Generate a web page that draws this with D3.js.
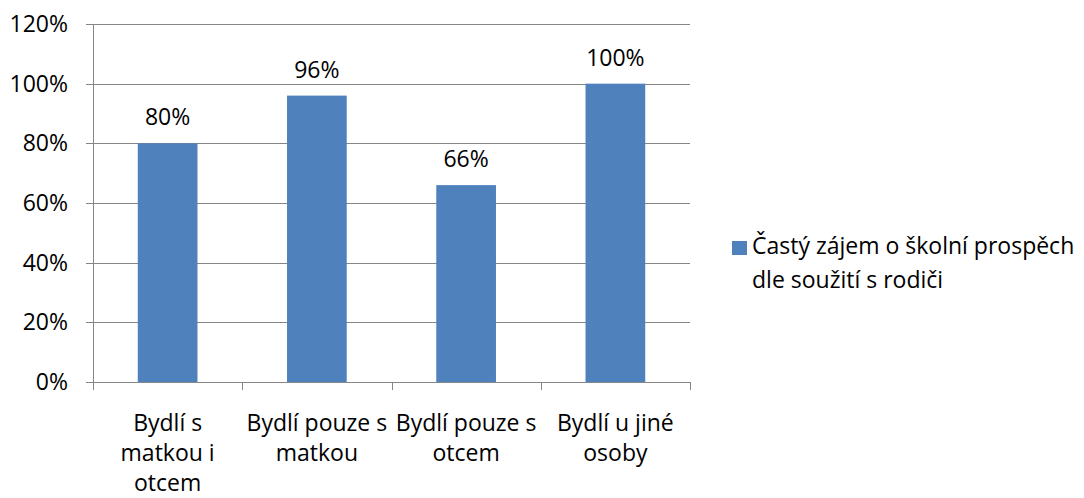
<!DOCTYPE html>
<html>
<head>
<meta charset="utf-8">
<script src="https://cdn.jsdelivr.net/npm/d3@7"></script>
<style>
  body { margin: 0; background: #fff; }
  text { font-family: "Open Sans", sans-serif; fill: #000; }
</style>
</head>
<body>
<svg id="chart" width="1084" height="498"></svg>
<script>
const categories = [
  ["Bydlí s", "matkou i", "otcem"],
  ["Bydlí pouze s", "matkou"],
  ["Bydlí pouze s", "otcem"],
  ["Bydlí u jiné", "osoby"]
];
const values = [0.80, 0.96, 0.66, 1.00];
const yTicks = [0, 0.2, 0.4, 0.6, 0.8, 1.0, 1.2];
const seriesName = ["Častý zájem o školní prospěch", "dle soužití s rodiči"];

const svg = d3.select("#chart");
const plotL = 93, plotR = 690, plotT = 24, plotB = 382;
const fs = 23;

const x = d3.scaleBand()
  .domain(d3.range(categories.length))
  .range([plotL, plotR])
  .paddingInner(0.6)
  .paddingOuter(0.3);

const y = d3.scaleLinear().domain([0, 1.2]).range([plotB, plotT]);

// gridlines + left ticks
svg.append("g")
  .selectAll("line")
  .data(yTicks)
  .join("line")
  .attr("x1", plotL - 7).attr("x2", plotR)
  .attr("y1", d => Math.round(y(d)) + 0.5).attr("y2", d => Math.round(y(d)) + 0.5)
  .attr("stroke", "#868686").attr("stroke-width", 1);

svg.append("g")
  .selectAll("text")
  .data(yTicks)
  .join("text")
  .attr("x", 68).attr("y", d => y(d))
  .attr("dy", "0.35em")
  .attr("text-anchor", "end")
  .style("font-size", fs + "px")
  .text(d3.format(".0%"));

// bars
svg.append("g")
  .selectAll("rect")
  .data(values)
  .join("rect")
  .attr("x", (d, i) => x(i))
  .attr("width", x.bandwidth())
  .attr("y", d => y(d))
  .attr("height", d => plotB - y(d))
  .attr("fill", "#4F81BD");

svg.append("g")
  .selectAll("text")
  .data(values)
  .join("text")
  .attr("x", (d, i) => x(i) + x.bandwidth() / 2)
  .attr("y", d => y(d) - 18)
  .attr("text-anchor", "middle")
  .style("font-size", fs + "px")
  .text(d3.format(".0%"));

// axes lines
svg.append("line")
  .attr("x1", plotL + 0.5).attr("x2", plotL + 0.5)
  .attr("y1", plotT).attr("y2", plotB)
  .attr("stroke", "#868686");

const step = (plotR - plotL) / categories.length;
svg.append("g")
  .selectAll("line")
  .data(d3.range(categories.length + 1))
  .join("line")
  .attr("x1", d => Math.round(plotL + d * step) + 0.5)
  .attr("x2", d => Math.round(plotL + d * step) + 0.5)
  .attr("y1", plotB).attr("y2", plotB + 8)
  .attr("stroke", "#868686");

// category labels
const cat = svg.append("g")
  .selectAll("text")
  .data(categories)
  .join("text")
  .attr("text-anchor", "middle")
  .style("font-size", fs + "px");
cat.selectAll("tspan")
  .data((d, i) => d.map(t => ({ t, i })))
  .join("tspan")
  .attr("x", d => x(d.i) + x.bandwidth() / 2)
  .attr("y", (d, j) => 431 + j * 30)
  .text(d => d.t);

// legend
svg.append("rect")
  .attr("x", 732).attr("y", 241)
  .attr("width", 15).attr("height", 14)
  .attr("fill", "#4F81BD");
svg.append("g")
  .selectAll("text")
  .data(seriesName)
  .join("text")
  .attr("x", 752)
  .attr("y", (d, i) => 254 + i * 34)
  .style("font-size", fs + "px")
  .text(d => d);
</script>
</body>
</html>
